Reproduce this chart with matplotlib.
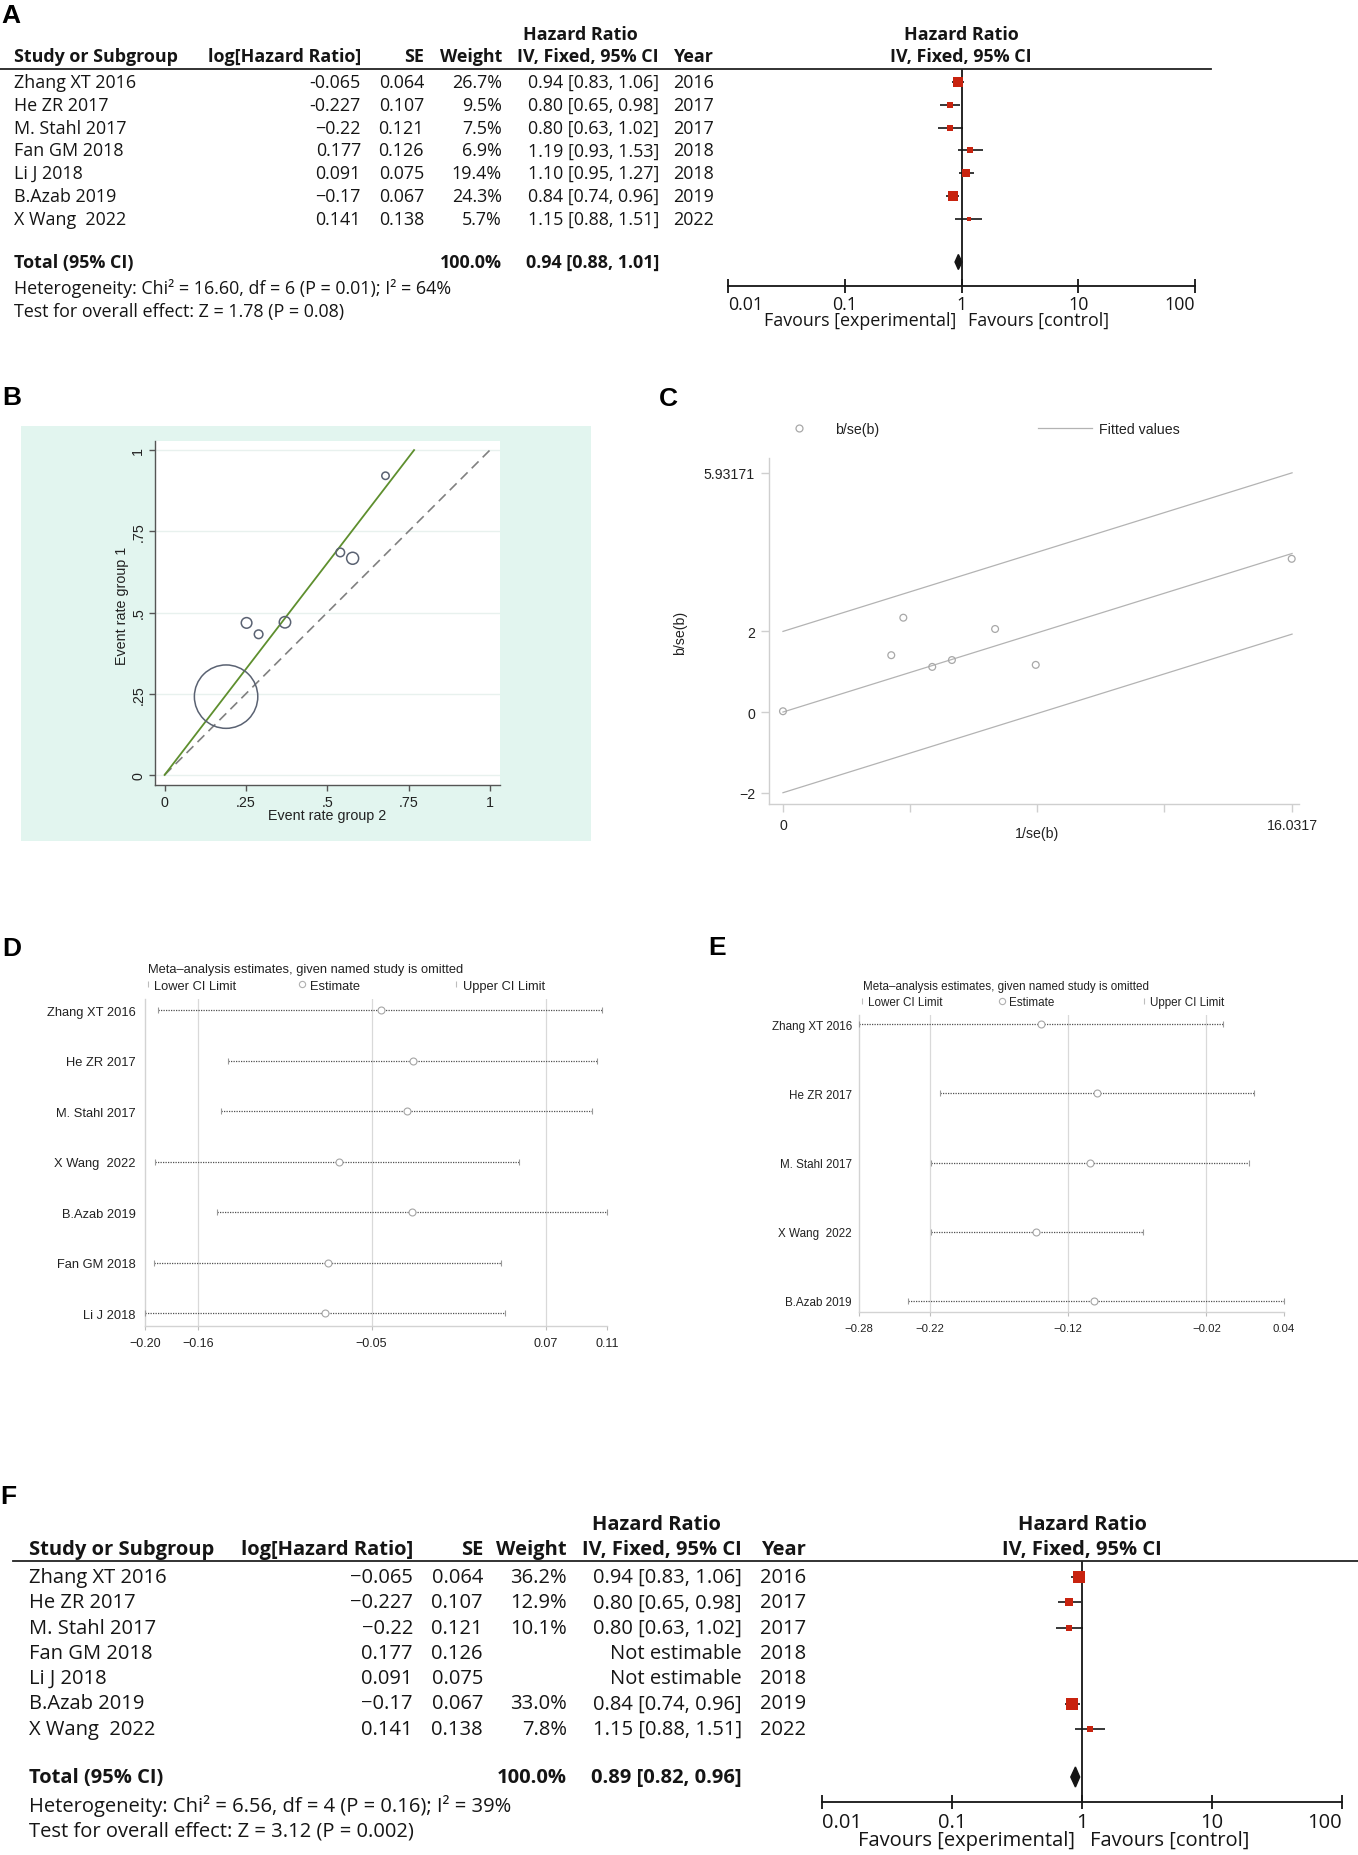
import numpy as np
import matplotlib
matplotlib.use('Agg')
import matplotlib.pyplot as plt
from matplotlib.transforms import Affine2D
from matplotlib.lines import Line2D
from matplotlib.patches import Rectangle, Polygon
from matplotlib.legend import Legend
from matplotlib.ticker import NullLocator

W, H = 1358, 1856
STATA = ['Liberation Sans', 'DejaVu Sans']
TAB = ['Open Sans', 'DejaVu Sans']
plt.rcParams['font.family'] = STATA

# ---------------- data: forest plots (A, F) ----------------
studies = ['Zhang XT 2016', 'He ZR 2017', 'M. Stahl 2017', 'Fan GM 2018',
           'Li J 2018', 'B.Azab 2019', 'X Wang  2022']
log_hr_txt = ['-0.065', '-0.227', '\u22120.22', '0.177', '0.091', '\u22120.17', '0.141']
se = [0.064, 0.107, 0.121, 0.126, 0.075, 0.067, 0.138]
years = [2016, 2017, 2017, 2018, 2018, 2019, 2022]
hr = [0.94, 0.80, 0.80, 1.19, 1.10, 0.84, 1.15]
hr_lo = [0.83, 0.65, 0.63, 0.93, 0.95, 0.74, 0.88]
hr_hi = [1.06, 0.98, 1.02, 1.53, 1.27, 0.96, 1.51]
weight_a = [26.7, 9.5, 7.5, 6.9, 19.4, 24.3, 5.7]
total_a = [0.94, 0.88, 1.01]
het_a = 'Heterogeneity: Chi\u00b2 = 16.60, df = 6 (P = 0.01); I\u00b2 = 64%'
test_a = 'Test for overall effect: Z = 1.78 (P = 0.08)'
weight_f = [36.2, 12.9, 10.1, None, None, 33.0, 7.8]
total_f = [0.89, 0.82, 0.96]
het_f = 'Heterogeneity: Chi\u00b2 = 6.56, df = 4 (P = 0.16); I\u00b2 = 39%'
test_f = 'Test for overall effect: Z = 3.12 (P = 0.002)'
fp_ticks = [0.01, 0.1, 1, 10, 100]
fp_ticklabels = ['0.01', '0.1', '1', '10', '100']

# ---------------- data: L'Abbe plot (B) ----------------
rate2 = [0.679, 0.540, 0.578, 0.252, 0.289, 0.370, 0.189]
rate1 = [0.921, 0.685, 0.667, 0.468, 0.433, 0.470, 0.241]
b_size = [3.7, 4.3, 6.0, 5.3, 4.3, 5.7, 31.7]
b_slope = 1.304
b_ticks = [0, 0.25, 0.5, 0.75, 1]
b_ticklabels = ['0', '.25', '.5', '.75', '1']

# ---------------- data: Galbraith plot (C) ----------------
c_x = [0.0, 3.41, 3.79, 4.70, 5.32, 6.68, 7.96, 16.02]
c_y = [0.02, 1.41, 2.34, 1.12, 1.29, 2.06, 1.17, 3.80]
c_slope = 0.2453
c_band = 2.0
c_xmax = 16.0317
c_yticks = [5.93171, 2, 0, -2]
c_yticklabels = ['5.93171', '2', '0', '\u22122']
c_xticks = [0, 4, 8, 12, 16.0317]
c_xticklabels = ['0', '', '', '', '16.0317']

# ---------------- data: leave-one-out (D, E) ----------------
d_names = ['Zhang XT 2016', 'He ZR 2017', 'M. Stahl 2017', 'X Wang  2022',
           'B.Azab 2019', 'Fan GM 2018', 'Li J 2018']
d_lo = [-0.191, -0.144, -0.149, -0.193, -0.152, -0.194, -0.200]
d_est = [-0.0418, -0.0205, -0.0242, -0.070, -0.0208, -0.0772, -0.0795]
d_hi = [0.1064, 0.1032, 0.100, 0.0507, 0.110, 0.039, 0.0416]
d_ticks = [-0.200, -0.1644, -0.048, 0.069, 0.110]
d_ticklabels = ['\u22120.20', '\u22120.16', '\u22120.05', '0.07', '0.11']

e_names = ['Zhang XT 2016', 'He ZR 2017', 'M. Stahl 2017', 'X Wang  2022', 'B.Azab 2019']
e_lo = [-0.280, -0.2195, -0.2262, -0.2262, -0.2433]
e_est = [-0.1435, -0.1016, -0.1065, -0.1473, -0.1037]
e_hi = [-0.0073, 0.0158, 0.0121, -0.0675, 0.038]
e_ticks = [-0.280, -0.2264, -0.1231, -0.0197, 0.038]
e_ticklabels = ['\u22120.28', '\u22120.22', '\u22120.12', '\u22120.02', '0.04']

loo_title = 'Meta\u2013analysis estimates, given named study is omitted'

# ======================================================================
fig = plt.figure(figsize=(W / 100, H / 100), dpi=100)
PX = Affine2D().scale(1 / W, -1 / H).translate(0, 1) + fig.transFigure
RED = '#c8230f'


def add_ax(x0, y0, x1, y1):
    return fig.add_axes([x0 / W, 1 - y1 / H, (x1 - x0) / W, (y1 - y0) / H])


def panel_label(s, x, y):
    fig.text(x, y, s, transform=PX, fontsize=19, fontweight='bold',
             family=STATA, ha='left', va='center')


def put_legend(ax, handle, label, x, y, fs, hl, tp):
    lg = Legend(ax, [handle], [label], loc='center left', bbox_to_anchor=(x, y),
                bbox_transform=PX, frameon=False, handlelength=hl,
                handletextpad=tp, borderpad=0, borderaxespad=0,
                prop={'family': STATA, 'size': fs}, labelcolor='#222222')
    ax.add_artist(lg)


# ---------------- forest panels ----------------
def forest_panel(L, weights, total, het, test, logtxt):
    fs = L['fs']

    def txt(x, y, s, ha='left', bold=False):
        fig.text(x, y, s, transform=PX, fontsize=fs, family=TAB, ha=ha,
                 va='center', fontweight='bold' if bold else 'normal',
                 color='#151515')

    txt(L['hr_hdr_x'], L['h1'], 'Hazard Ratio', ha='center', bold=True)
    txt(L['name_x'], L['h2'], 'Study or Subgroup', bold=True)
    txt(L['log_r'], L['h2'], 'log[Hazard Ratio]', ha='right', bold=True)
    txt(L['se_r'], L['h2'], 'SE', ha='right', bold=True)
    txt(L['w_r'], L['h2'], 'Weight', ha='right', bold=True)
    txt(L['ci_r'], L['h2'], 'IV, Fixed, 95% CI', ha='right', bold=True)
    txt(L['year_r'], L['h2'], 'Year', ha='right', bold=True)
    txt(L['fp_hdr_x'], L['h1'], 'Hazard Ratio', ha='center', bold=True)
    txt(L['fp_hdr_x'], L['h2'], 'IV, Fixed, 95% CI', ha='center', bold=True)
    fig.add_artist(Line2D([L['line_x0'], L['line_x1']], [L['line_y']] * 2,
                          transform=PX, color='#222222', lw=1.3))

    ax = add_ax(L['fx0'], L['line_y'], L['fx1'], L['axis_y'])
    ax.set_xscale('log')
    ax.set_xlim(fp_ticks[0], fp_ticks[-1])
    ax.set_ylim(L['axis_y'], L['line_y'])
    ax.patch.set_alpha(0)
    for s in ['top', 'right', 'left']:
        ax.spines[s].set_visible(False)
    ax.spines['bottom'].set_linewidth(1.3)
    ax.spines['bottom'].set_color('#151515')
    ax.set_yticks([])
    ax.set_xticks(fp_ticks)
    ax.set_xticklabels(fp_ticklabels)
    ax.xaxis.set_minor_locator(NullLocator())
    ax.tick_params(axis='x', direction='inout', length=L['tick_len'], width=1.3,
                   labelsize=fs, pad=L['tick_pad'], colors='#151515')
    labs = ax.get_xticklabels()
    for lb in labs:
        lb.set_family(TAB)
    labs[0].set_ha('left')
    labs[-1].set_ha('right')
    ax.axvline(1, color='#151515', lw=1.3)

    for i in range(len(studies)):
        y = L['row_y0'] + i * L['row_dy']
        w = weights[i]
        txt(L['name_x'], y, studies[i])
        txt(L['log_r'], y, logtxt[i], ha='right')
        txt(L['se_r'], y, f'{se[i]:.3f}', ha='right')
        txt(L['w_r'], y, f'{w:.1f}%' if w else '', ha='right')
        ci = f'{hr[i]:.2f} [{hr_lo[i]:.2f}, {hr_hi[i]:.2f}]' if w else 'Not estimable'
        txt(L['ci_r'], y, ci, ha='right')
        txt(L['year_r'], y, str(years[i]), ha='right')
        if w:
            ax.plot([hr_lo[i], hr_hi[i]], [y, y], color='#151515', lw=1.2,
                    solid_capstyle='butt', zorder=2)
            ax.plot([hr[i]], [y], marker='s', ls='none',
                    ms=L['sq'] * np.sqrt(w) * 0.72, color=RED, mew=0, zorder=3)

    ty = L['total_y']
    txt(L['name_x'], ty, 'Total (95% CI)', bold=True)
    txt(L['w_r'], ty, '100.0%', ha='right', bold=True)
    txt(L['ci_r'], ty, f'{total[0]:.2f} [{total[1]:.2f}, {total[2]:.2f}]',
        ha='right', bold=True)
    h = L['dia_h']
    ax.add_patch(Polygon([[total[1], ty], [total[0], ty - h], [total[2], ty],
                          [total[0], ty + h]], closed=True, color='#151515', zorder=3))
    txt(L['name_x'], L['het_y'], het)
    txt(L['name_x'], L['test_y'], test)
    txt(L['fav_r'], L['fav_y'], 'Favours [experimental]', ha='right')
    txt(L['fav_l'], L['fav_y'], 'Favours [control]')


LA = dict(fs=12.9, h1=35.5, h2=57, line_y=70, line_x0=0, line_x1=1211,
          row_y0=83, row_dy=22.8, total_y=263, het_y=289, test_y=312.5,
          name_x=14, log_r=361, se_r=424, w_r=502, ci_r=659, year_r=714,
          hr_hdr_x=580, fp_hdr_x=961, fx0=728, fx1=1195, axis_y=286.5,
          tick_len=10, tick_pad=2, sq=1.94, dia_h=7.5,
          fav_r=956, fav_l=968, fav_y=320.5)
LF = dict(fs=14.5, h1=1525, h2=1550, line_y=1562, line_x0=13, line_x1=1358,
          row_y0=1578, row_dy=25.3, total_y=1778, het_y=1806, test_y=1831.5,
          name_x=29, log_r=413, se_r=483, w_r=567, ci_r=742, year_r=806,
          hr_hdr_x=656, fp_hdr_x=1082, fx0=822, fx1=1342, axis_y=1803,
          tick_len=10, tick_pad=2, sq=2.05, dia_h=10,
          fav_r=1075, fav_l=1090, fav_y=1841)

forest_panel(LA, weight_a, total_a, het_a, test_a, log_hr_txt)
forest_panel(LF, weight_f, total_f, het_f, test_f,
             [s.replace('-', '\u2212') for s in log_hr_txt])

# ---------------- B: L'Abbe plot ----------------
fig.add_artist(Rectangle((21, 427), 570, 415, transform=PX, facecolor='#e2f5ef',
                         edgecolor='none', zorder=0))
axB = add_ax(155, 442, 500, 786)
axB.set_facecolor('white')
axB.set_xlim(-0.0295, 1.031)
axB.set_ylim(-0.031, 1.028)
for s in ['top', 'right']:
    axB.spines[s].set_visible(False)
for s in ['left', 'bottom']:
    axB.spines[s].set_color('#555555')
    axB.spines[s].set_linewidth(1.0)
axB.set_xticks(b_ticks)
axB.set_xticklabels(b_ticklabels)
axB.set_yticks(b_ticks)
axB.set_yticklabels(b_ticklabels)
axB.tick_params(direction='out', length=4, width=1, color='#555555',
                labelsize=10.3, labelcolor='#222222')
axB.tick_params(axis='y', labelrotation=90, pad=3)
for lb in axB.get_yticklabels():
    lb.set_va('center')
axB.yaxis.grid(True, color='#e8f1ee', lw=1)
axB.set_axisbelow(True)
axB.plot([0, 1], [0, 1], color='#808080', lw=1.2, dashes=(5.8, 3.5), zorder=2)
axB.plot([0, 1 / b_slope], [0, 1], color='#5e8f2e', lw=1.3, zorder=2)
axB.scatter(rate2, rate1, s=[(2 * r * 0.72) ** 2 for r in b_size],
            facecolors='none', edgecolors='#5a6272', linewidths=1.1, zorder=3)
axB.set_xlabel('Event rate group 2', fontsize=10.3, color='#222222')
axB.set_ylabel('Event rate group 1', fontsize=10.3, color='#222222')
axB.xaxis.set_label_coords(327.5, 816, transform=PX)
axB.yaxis.set_label_coords(122, 606, transform=PX)
axB.xaxis.label.set_va('center')
axB.yaxis.label.set_va('center')

# ---------------- C: Galbraith plot ----------------
axC = add_ax(769, 459, 1299, 805)
axC.set_xlim(-0.44, 16.25)
axC.set_ylim(-2.28, 6.30)
for s in ['top', 'right']:
    axC.spines[s].set_visible(False)
for s in ['left', 'bottom']:
    axC.spines[s].set_color('#cfcfcf')
    axC.spines[s].set_linewidth(1.0)
axC.set_yticks(c_yticks)
axC.set_yticklabels(c_yticklabels)
axC.set_xticks(c_xticks)
axC.set_xticklabels(c_xticklabels)
axC.tick_params(direction='out', length=6, width=1, color='#cfcfcf',
                labelsize=10.2, labelcolor='#222222', pad=4)
xs = np.array([0, c_xmax])
axC.plot(xs, c_slope * xs, color='#b3b3b3', lw=0.9)
axC.plot(xs, c_slope * xs + c_band, color='#b3b3b3', lw=0.9)
axC.plot(xs, c_slope * xs - c_band, color='#b3b3b3', lw=0.9)
axC.scatter(c_x, c_y, s=24, facecolors='none', edgecolors='#a8a8a8',
            linewidths=0.9, zorder=3)
axC.set_xlabel('1/se(b)', fontsize=10.2, color='#222222')
axC.set_ylabel('b/se(b)', fontsize=10.2, color='#222222')
axC.xaxis.set_label_coords(1036.5, 834, transform=PX)
axC.yaxis.set_label_coords(680, 633, transform=PX)
axC.xaxis.label.set_va('center')
axC.yaxis.label.set_va('center')
put_legend(axC, Line2D([], [], ls='none', marker='o', ms=5, mfc='none', mec='#a8a8a8', mew=0.9),
           'b/se(b)', 784.8, 430, 10.2, 2.0, 1.53)
put_legend(axC, Line2D([], [], color='#b3b3b3', lw=0.9),
           'Fitted values', 1038, 430, 10.2, 3.8, 0.5)


# ---------------- D, E: leave-one-out ----------------
def loo_panel(box, ylim, names, lo, est, hi, ticks, ticklabels, fs, tfs,
              title_xy, leg_y, leg_x, ypad, xpad):
    ax = add_ax(*box)
    ax.set_xlim(min(lo), max(hi))
    ax.set_ylim(*ylim)
    for s in ['top', 'right']:
        ax.spines[s].set_visible(False)
    for s in ['left', 'bottom']:
        ax.spines[s].set_color('#d3d3d3')
        ax.spines[s].set_linewidth(1.0)
    for v in ticks[1:-1]:
        ax.axvline(v, color='#d9d9d9', lw=0.9, zorder=1)
    n = len(names)
    ax.set_yticks(range(n))
    ax.set_yticklabels(names)
    ax.tick_params(axis='y', length=0, pad=ypad, labelsize=fs, labelcolor='#222222')
    ax.set_xticks(ticks)
    ax.set_xticklabels(ticklabels)
    ax.tick_params(axis='x', direction='out', length=3, width=0.8, color='#bdbdbd',
                   labelsize=tfs, labelcolor='#222222', pad=xpad)
    for i in range(n):
        ax.plot([lo[i], hi[i]], [i, i], color='#505050', lw=0.9, ls=(0, (1, 1)), zorder=2)
        ax.plot([lo[i], hi[i]], [i, i], ls='none', marker='|', ms=5, mew=0.8,
                color='#9a9a9a', zorder=3, clip_on=False)
        ax.plot([est[i]], [i], ls='none', marker='o', ms=5, mfc='white',
                mec='#a5a5a5', mew=0.8, zorder=4)
    fig.text(title_xy[0], title_xy[1], loo_title, transform=PX, fontsize=fs,
             family=STATA, color='#222222', ha='left', va='center')
    em = fs / 0.72
    bar = Line2D([], [], ls='none', marker='|', ms=5, mew=0.8, color='#bdbdbd')
    circ = Line2D([], [], ls='none', marker='o', ms=4.5, mfc='white', mec='#b0b0b0', mew=0.8)
    hl = 6.4 / em
    for (hx, tx), handle, lab in zip(leg_x, [bar, circ, bar],
                                     ['Lower CI Limit', 'Estimate', 'Upper CI Limit']):
        put_legend(ax, handle, lab, hx - 3.2, leg_y, fs, hl, (tx - hx - 3.2) / em)
    return ax


loo_panel((145, 1000, 607, 1327), (6.257, -0.218), d_names, d_lo, d_est, d_hi,
          d_ticks, d_ticklabels, 9.25, 9.0, (148, 970), 986.7,
          [(148, 154.5), (301.7, 309.7), (456, 463)], 6.5, 5)
loo_panel((858.7, 1016, 1283.5, 1313), (4.159, -0.134), e_names, e_lo, e_est, e_hi,
          e_ticks, e_ticklabels, 8.4, 8.2, (862.7, 987.3), 1002.7,
          [(861.7, 867.7), (1002, 1009), (1144, 1150)], 5, 5)

# ---------------- panel labels ----------------
panel_label('A', 1, 16)
panel_label('B', 2, 398)
panel_label('C', 659, 399.5)
panel_label('D', 2, 949.5)
panel_label('E', 708, 948.5)
panel_label('F', 0, 1497)

fig.savefig('out.png', dpi=100, facecolor='white')
